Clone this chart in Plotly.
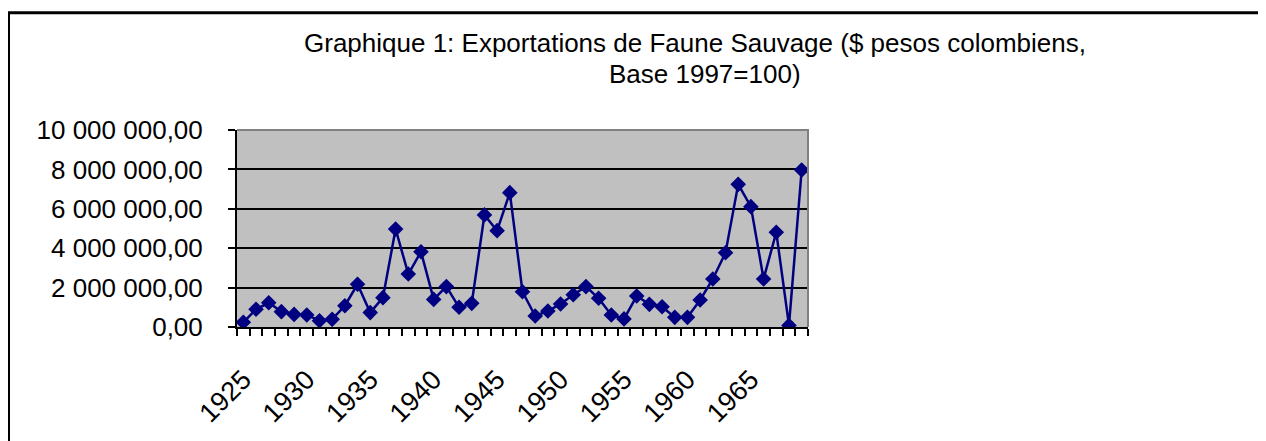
import plotly.graph_objects as go

years = list(range(1925, 1970))
values = [
    240000, 900000, 1230000, 780000, 640000, 610000, 320000, 390000, 1080000, 2170000,
    730000, 1490000, 4970000, 2690000, 3820000, 1400000, 2050000, 1000000, 1200000, 5690000,
    4890000, 6820000, 1790000, 560000, 810000, 1170000, 1640000, 2050000, 1460000, 610000,
    410000, 1570000, 1150000, 1030000, 490000, 490000, 1370000, 2440000, 3770000, 7240000,
    6110000, 2440000, 4810000, 80000, 7970000,
]
label_years = [1925, 1930, 1935, 1940, 1945, 1950, 1955, 1960, 1965]
y_ticks = [0, 2000000, 4000000, 6000000, 8000000, 10000000]
title_line1 = "Graphique 1: Exportations de Faune Sauvage ($ pesos colombiens,"
title_line2 = "Base 1997=100)"

FONT = "Liberation Sans, Arial, sans-serif"

# figure sized to fit inside the page body margin (8px)
W, H = 1258, 433
L, T, PW, PH = 229, 122, 571, 197


def px(fx):
    return (fx - L) / PW


def py(fy):
    return (T + PH - fy) / PH


fig = go.Figure()
fig.add_trace(go.Scatter(
    x=years, y=values, mode="lines+markers",
    line=dict(color="#000080", width=2.5),
    marker=dict(symbol="diamond", size=12, color="#000080"),
    showlegend=False,
))

fig.update_layout(
    width=W, height=H,
    margin=dict(l=L, r=W - L - PW, t=T, b=H - T - PH),
    paper_bgcolor="white",
    plot_bgcolor="#C0C0C0",
    separators=", ",
    font=dict(family=FONT, color="black", size=26),
    xaxis=dict(
        range=[1924.5, 1969.5],
        tickvals=label_years,
        ticktext=[str(y) for y in label_years],
        ticks="",
        tickangle=-45,
        ticklabelstandoff=24,
        showgrid=False, zeroline=False,
        showline=True, linecolor="black", linewidth=2,
        tickfont=dict(family=FONT, size=27, color="black"),
        minor=dict(ticks="outside", tick0=1924.5, dtick=1, ticklen=7,
                   tickcolor="black", tickwidth=2, showgrid=False),
    ),
    yaxis=dict(
        range=[0, 10000000],
        tickvals=y_ticks,
        tickformat=",.2f",
        ticks="outside", ticklen=7, tickcolor="black", tickwidth=2,
        ticklabelstandoff=20,
        showgrid=True, gridcolor="black", gridwidth=2,
        zeroline=False,
        showline=True, linecolor="black", linewidth=2,
        tickfont=dict(family=FONT, size=26, color="black"),
    ),
    annotations=[
        dict(text=title_line1, xref="paper", yref="paper", x=px(687), y=py(35),
             xanchor="center", yanchor="middle", showarrow=False,
             font=dict(family=FONT, size=26, color="black")),
        dict(text=title_line2, xref="paper", yref="paper", x=px(697), y=py(66),
             xanchor="center", yanchor="middle", showarrow=False,
             font=dict(family=FONT, size=26, color="black")),
    ],
    shapes=[
        # gray top/right border of plot area
        dict(type="path", xref="paper", yref="paper", path="M 0,1 L 1,1 L 1,0",
             line=dict(color="#808080", width=2), layer="above"),
        # outer chart frame
        dict(type="path", xref="paper", yref="paper",
             path=f"M {px(0.5)},-2 L {px(0.5)},{py(4.75)} L {px(1256)},{py(4.75)}",
             line=dict(color="black", width=3), layer="above"),
        dict(type="path", xref="paper", yref="paper",
             path=f"M {px(1256)},{py(4.75)} L {px(1256)},-2",
             line=dict(color="#808080", width=1.5), layer="above"),
    ],
)

fig.write_html("out.html")
